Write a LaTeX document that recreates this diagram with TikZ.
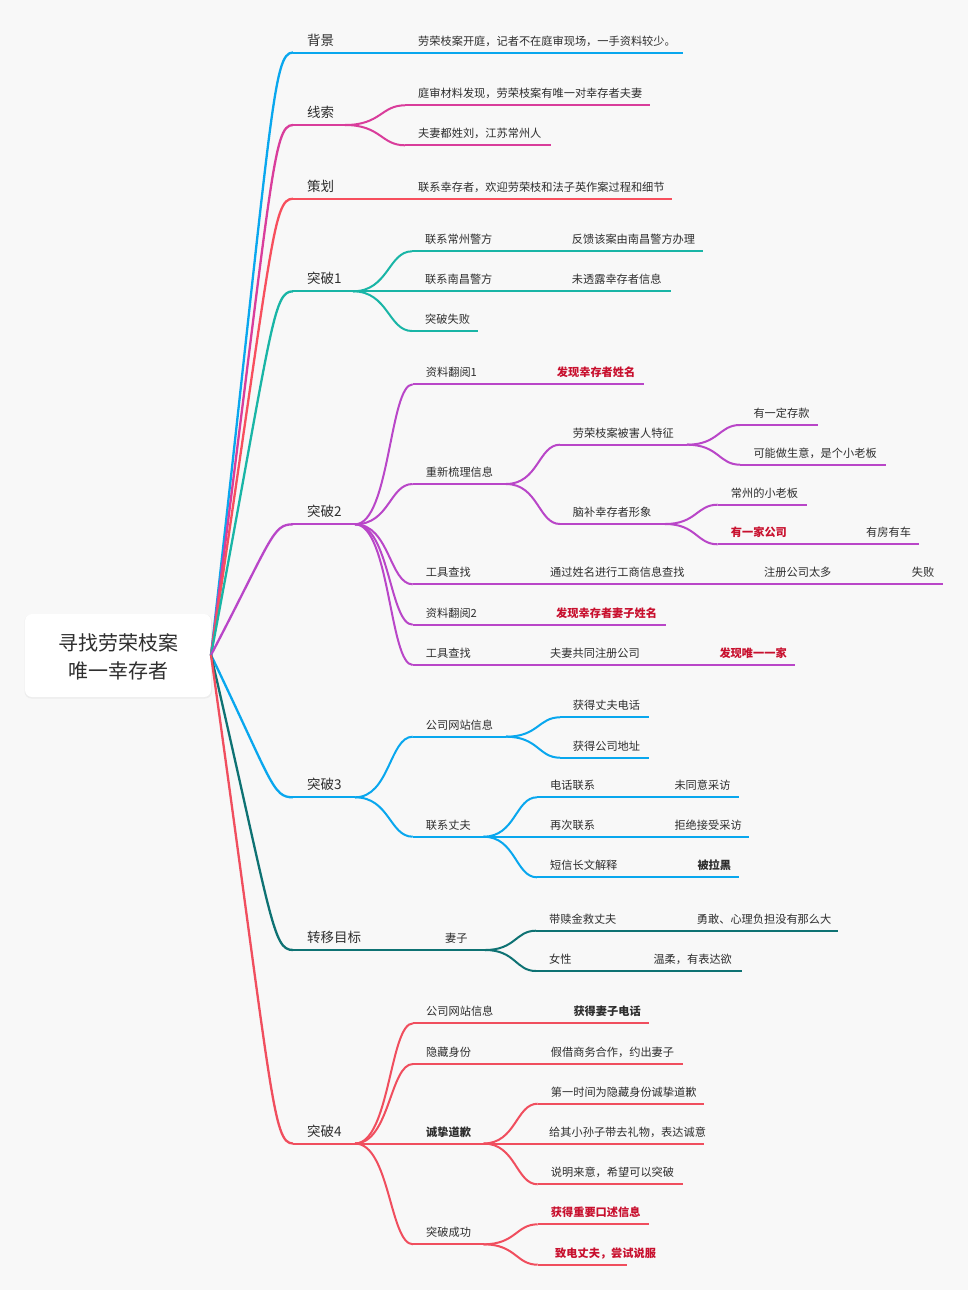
\documentclass[tikz,border=0pt]{standalone}
\usepackage{fontspec}
\setmainfont{Noto Sans CJK SC}
\usetikzlibrary{calc}
\definecolor{cBg}{HTML}{F8F8F8}
\definecolor{cShadow}{HTML}{EDEDED}
\definecolor{cText}{HTML}{2E2E2E}
\definecolor{cRedText}{HTML}{C8102E}
\definecolor{cBlue}{HTML}{09A7EE}
\definecolor{cMag}{HTML}{D93D9B}
\definecolor{cRedA}{HTML}{F74F5D}
\definecolor{cTeal}{HTML}{19B5A6}
\definecolor{cPurple}{HTML}{B946C8}
\definecolor{cDTeal}{HTML}{0E7273}
\definecolor{cRedB}{HTML}{F04E5E}
\tikzset{
  txbase/.style={anchor=west, inner sep=0pt, text height=0.88em, text depth=0.12em, text=cText},
  lone/.style={txbase, font=\fontsize{13.5}{16}\selectfont},
  ltwo/.style={txbase, font=\fontsize{11.2}{13}\selectfont},
  lbold/.style={txbase, font=\fontsize{11.2}{13}\selectfont\bfseries},
  lred/.style={txbase, font=\fontsize{11.2}{13}\selectfont\bfseries, text=cRedText},
  uline/.style={draw=brc, line width=2pt},
  rootlink/.style={draw=brc, line width=2.3pt,
    to path={let \p1=(\tikztostart), \p2=(\tikztotarget) in
      .. controls ({\x1+0.75*(\x2-\x1)},{\y2+0.1*(\y1-\y2)}) and ({\x1+0.75*(\x2-\x1)},\y2) .. (\tikztotarget)}},
  sublink/.style={draw=brc, line width=2pt,
    to path={let \p1=(\tikztostart), \p2=(\tikztotarget) in
      .. controls ({\x1+0.6*(\x2-\x1)},\y1) and ({\x1+0.6*(\x2-\x1)},\y2) .. (\tikztotarget)}},
  roottext/.style={align=center, inner sep=0pt, text=cText, font=\fontsize{20}{28}\selectfont}
}
% name, xL, xR, y, xtext, style, text
\newcommand\mmtopic[7]{%
  \coordinate (#1-L) at (#2,#4);
  \coordinate (#1-R) at (#3,#4);
  \draw[uline] (#1-L) -- (#1-R);
  \node[#6] (#1) at (#5,#4-11.2) {#7};
}
\newcommand\mmlink[2]{\draw[sublink] (#1-R) to (#2-L);}
\newcommand\mmroot[1]{\draw[rootlink] (root-R) to (#1-L);}
\begin{document}
\begin{tikzpicture}[x=1pt,y=-1pt]
\useasboundingbox (0,0) rectangle (975,1299);
\fill[white] (0,0) rectangle (975,1299);
\fill[cBg] (0,0) rectangle (968,1290);
% root
\fill[cShadow, rounded corners=7pt] (24.5,614.5) rectangle (212,698.5);
\fill[white, rounded corners=7pt] (25,614) rectangle (211,697);
\node[roottext] (root) at (118,656.7) {寻找劳荣枝案\\唯一幸存者};
\coordinate (root-R) at (211,655);

% 背景
\begin{scope}
\colorlet{brc}{cBlue}
\mmtopic{bg}{293}{345}{52.5}{307}{lone}{背景}
\mmroot{bg}
\mmtopic{bg1}{405}{683.3}{52.5}{418}{ltwo}{劳荣枝案开庭，记者不在庭审现场，一手资料较少。}
\mmlink{bg}{bg1}
\end{scope}

% 线索
\begin{scope}
\colorlet{brc}{cMag}
\mmtopic{xs}{293}{345}{125}{307}{lone}{线索}
\mmroot{xs}
\mmtopic{xs1}{405}{650}{105.3}{418}{ltwo}{庭审材料发现，劳荣枝案有唯一对幸存者夫妻}
\mmtopic{xs2}{405}{550.7}{145.3}{418}{ltwo}{夫妻都姓刘，江苏常州人}
\mmlink{xs}{xs1}
\mmlink{xs}{xs2}
\end{scope}

% 策划
\begin{scope}
\colorlet{brc}{cRedA}
\mmtopic{ch}{293}{345}{198.7}{307}{lone}{策划}
\mmroot{ch}
\mmtopic{ch1}{405}{672.3}{198.7}{418}{ltwo}{联系幸存者，欢迎劳荣枝和法子英作案过程和细节}
\mmlink{ch}{ch1}
\end{scope}

% 突破1
\begin{scope}
\colorlet{brc}{cTeal}
\mmtopic{ta}{293}{353}{291.3}{307}{lone}{突破1}
\mmroot{ta}
\mmtopic{ta1}{412}{500}{251.3}{425}{ltwo}{联系常州警方}
\mmtopic{ta1a}{558}{702.7}{251.3}{571.7}{ltwo}{反馈该案由南昌警方办理}
\mmtopic{ta2}{412}{500}{291.3}{425}{ltwo}{联系南昌警方}
\mmtopic{ta2a}{558}{671}{291.3}{571.7}{ltwo}{未透露幸存者信息}
\mmtopic{ta3}{412}{478.3}{331}{425}{ltwo}{突破失败}
\mmlink{ta}{ta1}
\mmlink{ta}{ta2}
\mmlink{ta}{ta3}
\mmlink{ta1}{ta1a}
\mmlink{ta2}{ta2a}
\end{scope}

% 突破2
\begin{scope}
\colorlet{brc}{cPurple}
\mmtopic{tb}{293}{355}{524.3}{307}{lone}{突破2}
\mmroot{tb}
\mmtopic{tb1}{412.7}{490}{384.3}{425.7}{ltwo}{资料翻阅1}
\mmtopic{tb1a}{543.7}{644}{384.3}{556.7}{lred}{发现幸存者姓名}
\mmtopic{tb2}{412.7}{506}{484}{425.7}{ltwo}{重新梳理信息}
\mmtopic{tb2a}{560}{687}{444.7}{572.7}{ltwo}{劳荣枝案被害人特征}
\mmtopic{tb2a1}{740}{818.3}{425}{753.3}{ltwo}{有一定存款}
\mmtopic{tb2a2}{740}{885.7}{464.7}{753.3}{ltwo}{可能做生意，是个小老板}
\mmtopic{tb2b}{560}{665}{524}{572.7}{ltwo}{脑补幸存者形象}
\mmtopic{tb2b1}{717.7}{806.7}{504.7}{730.7}{ltwo}{常州的小老板}
\mmtopic{tb2b2}{717.7}{800}{544.3}{730.7}{lred}{有一家公司}
\mmtopic{tb2b2a}{853}{919.3}{544.3}{866}{ltwo}{有房有车}
\mmtopic{tb3}{412.7}{483.5}{584.3}{425.7}{ltwo}{工具查找}
\mmtopic{tb3a}{537}{697}{584.3}{550}{ltwo}{通过姓名进行工商信息查找}
\mmtopic{tb3a1}{751}{844}{584.3}{764}{ltwo}{注册公司太多}
\mmtopic{tb3a1a}{898.7}{943.3}{584.3}{911.7}{ltwo}{失败}
\mmtopic{tb4}{412.7}{490}{624.7}{425.7}{ltwo}{资料翻阅2}
\mmtopic{tb4a}{543}{666}{624.7}{556}{lred}{发现幸存者妻子姓名}
\mmtopic{tb5}{412.7}{483.5}{665}{425.7}{ltwo}{工具查找}
\mmtopic{tb5a}{537}{650}{665}{550}{ltwo}{夫妻共同注册公司}
\mmtopic{tb5a1}{706.3}{795.3}{665}{719.3}{lred}{发现唯一一家}
\mmlink{tb}{tb1}
\mmlink{tb}{tb2}
\mmlink{tb}{tb3}
\mmlink{tb}{tb4}
\mmlink{tb}{tb5}
\mmlink{tb1}{tb1a}
\mmlink{tb2}{tb2a}
\mmlink{tb2}{tb2b}
\mmlink{tb2a}{tb2a1}
\mmlink{tb2a}{tb2a2}
\mmlink{tb2b}{tb2b1}
\mmlink{tb2b}{tb2b2}
\mmlink{tb2b2}{tb2b2a}
\mmlink{tb3}{tb3a}
\mmlink{tb3a}{tb3a1}
\mmlink{tb3a1}{tb3a1a}
\mmlink{tb4}{tb4a}
\mmlink{tb5}{tb5a}
\mmlink{tb5a}{tb5a1}
\end{scope}

% 突破3
\begin{scope}
\colorlet{brc}{cBlue}
\mmtopic{tc}{293}{355}{797.3}{307}{lone}{突破3}
\mmroot{tc}
\mmtopic{tc1}{412.7}{506}{736.7}{425.7}{ltwo}{公司网站信息}
\mmtopic{tc1a}{560}{649}{717.3}{572.7}{ltwo}{获得丈夫电话}
\mmtopic{tc1b}{560}{649}{757.7}{572.7}{ltwo}{获得公司地址}
\mmtopic{tc2}{412.7}{483.5}{836.7}{425.7}{ltwo}{联系丈夫}
\mmtopic{tc2a}{537}{605}{797.3}{550}{ltwo}{电话联系}
\mmtopic{tc2a1}{661.3}{739.3}{797.3}{674.3}{ltwo}{未同意采访}
\mmtopic{tc2b}{537}{605}{836.7}{550}{ltwo}{再次联系}
\mmtopic{tc2b1}{661.3}{748.7}{836.7}{674.3}{ltwo}{拒绝接受采访}
\mmtopic{tc2c}{537}{628}{877.3}{550}{ltwo}{短信长文解释}
\mmtopic{tc2c1}{684.3}{739.3}{877.3}{697.3}{lbold}{被拉黑}
\mmlink{tc}{tc1}
\mmlink{tc}{tc2}
\mmlink{tc1}{tc1a}
\mmlink{tc1}{tc1b}
\mmlink{tc2}{tc2a}
\mmlink{tc2}{tc2b}
\mmlink{tc2}{tc2c}
\mmlink{tc2a}{tc2a1}
\mmlink{tc2b}{tc2b1}
\mmlink{tc2c}{tc2c1}
\end{scope}

% 转移目标
\begin{scope}
\colorlet{brc}{cDTeal}
\mmtopic{zy}{293}{372}{950}{307}{lone}{转移目标}
\mmroot{zy}
\mmtopic{zy1}{432}{485}{950}{445}{ltwo}{妻子}
\mmtopic{zy1a}{536}{627}{930.7}{549}{ltwo}{带赎金救丈夫}
\mmtopic{zy1a1}{683.7}{838.3}{930.7}{696.7}{ltwo}{勇敢、心理负担没有那么大}
\mmtopic{zy1b}{536}{583}{971}{549}{ltwo}{女性}
\mmtopic{zy1b1}{640.3}{741.7}{971}{653.3}{ltwo}{温柔，有表达欲}
\mmlink{zy}{zy1}
\mmlink{zy1}{zy1a}
\mmlink{zy1}{zy1b}
\mmlink{zy1a}{zy1a1}
\mmlink{zy1b}{zy1b1}
\end{scope}

% 突破4
\begin{scope}
\colorlet{brc}{cRedB}
\mmtopic{td}{293}{355}{1143.5}{307}{lone}{突破4}
\mmroot{td}
\mmtopic{td1}{413}{506}{1023.3}{426}{ltwo}{公司网站信息}
\mmtopic{td1a}{560.3}{649.3}{1023.3}{573.3}{lbold}{获得妻子电话}
\mmtopic{td2}{413}{483.5}{1064}{426}{ltwo}{隐藏身份}
\mmtopic{td2a}{537.7}{683.3}{1064}{550.7}{ltwo}{假借商务合作，约出妻子}
\mmtopic{td3}{413}{483.5}{1143.5}{426}{lbold}{诚挚道歉}
\mmtopic{td3a}{537.7}{703.7}{1103.7}{550.7}{ltwo}{第一时间为隐藏身份诚挚道歉}
\mmtopic{td3b}{537.7}{703.7}{1143.5}{549}{ltwo}{给其小孙子带去礼物，表达诚意}
\mmtopic{td3c}{537.7}{683.3}{1184.3}{550.7}{ltwo}{说明来意，希望可以突破}
\mmtopic{td4}{413}{483.5}{1244.3}{426}{ltwo}{突破成功}
\mmtopic{td4a}{537.7}{649.3}{1224.3}{550.7}{lred}{获得重要口述信息}
\mmtopic{td4b}{537.7}{626.7}{1264.7}{555}{lred}{致电丈夫，尝试说服}
\mmlink{td}{td1}
\mmlink{td}{td2}
\mmlink{td}{td3}
\mmlink{td}{td4}
\mmlink{td1}{td1a}
\mmlink{td2}{td2a}
\mmlink{td3}{td3a}
\mmlink{td3}{td3b}
\mmlink{td3}{td3c}
\mmlink{td4}{td4a}
\mmlink{td4}{td4b}
\end{scope}
\end{tikzpicture}
\end{document}
